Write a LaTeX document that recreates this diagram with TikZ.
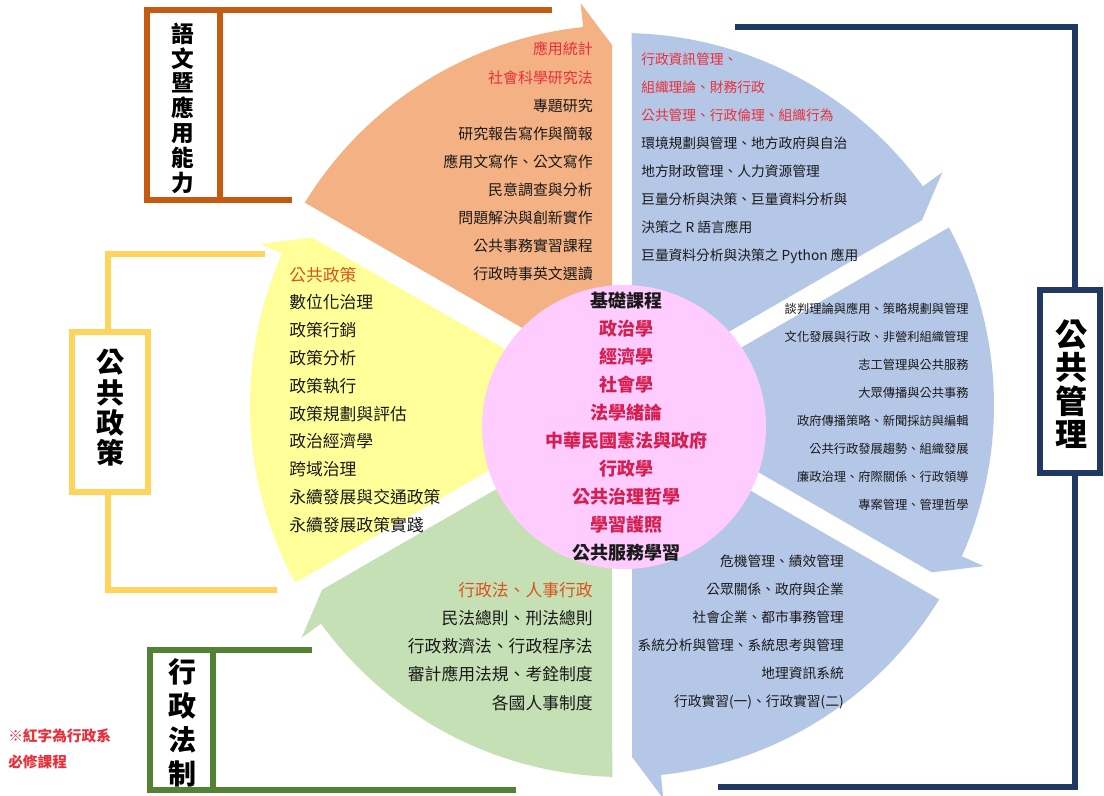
\documentclass[tikz,border=0pt]{standalone}
\usepackage{fontspec}
\setmainfont{Noto Sans CJK TC}
\usetikzlibrary{calc}
\definecolor{orf}{HTML}{F4B183}
\definecolor{blf}{HTML}{B4C7E7}
\definecolor{ylf}{HTML}{FFFF99}
\definecolor{grf}{HTML}{C5E0B4}
\definecolor{pkf}{HTML}{FFCCFF}
\definecolor{cfo}{HTML}{C55A11}
\definecolor{cfy}{HTML}{FFD45C}
\definecolor{cfn}{HTML}{1F3864}
\definecolor{cfg}{HTML}{548235}
\definecolor{rdt}{HTML}{E8303A}
\definecolor{rdc}{HTML}{D42050}
\definecolor{rdo}{HTML}{D9531E}
\definecolor{txk}{HTML}{1A1A1A}
\newcommand{\wheelpart}[4]{%
  \pgfmathsetmacro{\wpSa}{-(#2)}%
  \pgfmathsetmacro{\wpSo}{-(#2)+90}%
  \pgfmathsetmacro{\wpEa}{-(#3)}%
  \pgfmathsetmacro{\wpEo}{-(#3)-90}%
  \pgfmathsetmacro{\wpAa}{#2-1.5}%
  \pgfmathsetmacro{\wpAb}{#3+6}%
  \pgfmathsetmacro{\wpBa}{-(#3)-6}%
  \coordinate (wc) at (622,#4);
  \fill[#1] ($(wc)+(\wpSa:30)+(\wpSo:10)$)
    -- plot[domain=\wpAa:\wpAb,samples=60] ({622+372*cos(\x)},{#4-372*sin(\x)})
    -- ($(wc)+(\wpBa:396)$)
    -- ($(wc)+(\wpEa:352)+(\wpEo:10)$)
    -- ($(wc)+(\wpEa:30)+(\wpEo:10)$) -- cycle;}
\tikzset{
  itm/.style={inner sep=0pt, text height=0.8em, text depth=0.2em, text=txk},
  lbl/.style={inner sep=0pt, align=center, text=black},
  frame/.style={line width=4.5pt, line join=miter},
}
\begin{document}
\begin{tikzpicture}[x=0.75pt,y=-0.75pt]
\useasboundingbox (0,0) rectangle (1104,796);
\fill[white] (0,0) rectangle (1104,796);
% sectors
\wheelpart{orf}{150}{90}{397}
\wheelpart{blf}{90}{30}{405}
\wheelpart{blf}{30}{-30}{405}
\wheelpart{blf}{-30}{-90}{405}
\wheelpart{grf}{-90}{-150}{405}
\wheelpart{ylf}{210}{150}{405}
% core
\node[circle, fill=pkf, minimum size=213pt, inner sep=0pt] (core) at (624,427) {};
% frames
\draw[frame, cfo] (552,10) -- (147,10) -- (147,200) -- (292,200);
\draw[frame, cfo] (220,10) -- (220,200);
\draw[frame, cfy] (265,254) -| (108,332);
\draw[frame, cfy] (72,332) rectangle (148,492);
\draw[frame, cfy] (108,492) |- (277,590);
\draw[frame, cfn] (735,27) -| (1075,290);
\draw[frame, cfn] (1040,290) rectangle (1100,473);
\draw[frame, cfn] (1075,473) |- (718,787);
\draw[frame, cfg] (312,650) -- (150,650) -- (150,790) -- (516,790);
\draw[frame, cfg] (213,650) -- (213,790);
% labels
\node[lbl, font=\bfseries\fontsize{17}{18.6}\selectfont] (lang) at (183,108) {語\\文\\暨\\應\\用\\能\\力};
\node[lbl, font=\bfseries\fontsize{21}{22.7}\selectfont] (policy) at (110,408) {公\\共\\政\\策};
\node[lbl, font=\bfseries\fontsize{24}{25}\selectfont] (mgmt) at (1071,384) {公\\共\\管\\理};
\node[lbl, font=\bfseries\fontsize{21}{25.5}\selectfont] (law) at (182,723) {行\\政\\法\\制};
% note
\node[itm, anchor=west, text=rdt, font=\bfseries\fontsize{11}{13}\selectfont] (note1) at (8,737) {※紅字為行政系};
\node[itm, anchor=west, text=rdt, font=\bfseries\fontsize{11}{13}\selectfont] (note2) at (8,763) {必修課程};
% orange texts
\foreach \t [count=\i] in {{\color{rdt}應用統計},{\color{rdt}社會科學研究法},{專題研究},{研究報告寫作與簡報},{應用文寫作、公文寫作},{民意調查與分析},{問題解決與創新實作},{公共事務實習課程},{行政時事英文選讀}}
  \node[itm, anchor=east, font=\fontsize{11.2}{13}\selectfont] (or\i) at (593,{51+28*(\i-1)}) {\t};
% blue top texts
\foreach \t [count=\i] in {{\color{rdt}行政資訊管理、},{\color{rdt}組織理論、財務行政},{\color{rdt}公共管理、行政倫理、組織行為},{環境規劃與管理、地方政府與自治},{地方財政管理、人力資源管理},{巨量分析與決策、巨量資料分析與},{決策之 R 語言應用},{巨量資料分析與決策之 Python 應用}}
  \node[itm, anchor=west, font=\fontsize{10.3}{12}\selectfont] (bt\i) at (641,{60+28.1*(\i-1)}) {\t};
% blue middle texts
\foreach \t [count=\i] in {{談判理論與應用、策略規劃與管理},{文化發展與行政、非營利組織管理},{志工管理與公共服務},{大眾傳播與公共事務},{政府傳播策略、新聞採訪與編輯},{公共行政發展趨勢、組織發展},{廉政治理、府際關係、行政領導},{專案管理、管理哲學}}
  \node[itm, anchor=east, font=\fontsize{9.2}{11}\selectfont] (bm\i) at (969,{309+28*(\i-1)}) {\t};
% blue bottom texts
\foreach \t [count=\i] in {{危機管理、績效管理},{公眾關係、政府與企業},{社會企業、都市事務管理},{系統分析與管理、系統思考與管理},{地理資訊系統},{行政實習(一)、行政實習(二)}}
  \node[itm, anchor=east, font=\fontsize{10.3}{12}\selectfont] (bb\i) at (844,{562+28*(\i-1)}) {\t};
% green texts
\foreach \t [count=\i] in {{\color{rdo}行政法、人事行政},{民法總則、刑法總則},{行政救濟法、行政程序法},{審計應用法規、考銓制度},{各國人事制度}}
  \node[itm, anchor=east, font=\fontsize{12.6}{14}\selectfont] (gr\i) at (593,{592+28.25*(\i-1)}) {\t};
% yellow texts
\foreach \t [count=\i] in {{\color{rdo}公共政策},{數位化治理},{政策行銷},{政策分析},{政策執行},{政策規劃與評估},{政治經濟學},{跨域治理},{永續發展與交通政策},{永續發展政策實踐}}
  \node[itm, anchor=west, font=\fontsize{12.6}{14}\selectfont] (yl\i) at (289,{277+27.8*(\i-1)}) {\t};
% core texts
\foreach \t [count=\i] in {{\color{txk}基礎課程},{政治學},{經濟學},{社會學},{法學緒論},{中華民國憲法與政府},{行政學},{公共治理哲學},{學習護照},{\color{txk}公共服務學習}}
  \node[itm, anchor=center, text=rdc, font=\bfseries\fontsize{13.5}{15}\selectfont] (co\i) at (626,{303+28.1*(\i-1)}) {\t};
\end{tikzpicture}
\end{document}
